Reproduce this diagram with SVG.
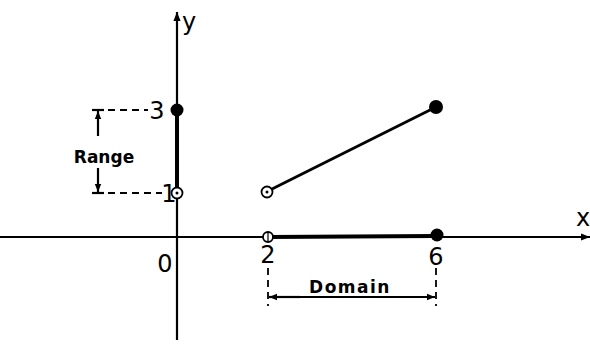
<svg xmlns="http://www.w3.org/2000/svg" width="590" height="345" viewBox="0 0 590 345">
<defs>
<marker id="ah" viewBox="0 0 10 10" refX="10" refY="5" markerWidth="12" markerHeight="8" markerUnits="userSpaceOnUse" orient="auto"><path d="M0,1 L10,5 L0,9 Z" fill="#000"/></marker>
<marker id="big" viewBox="0 0 10 10" refX="10" refY="5" markerWidth="16" markerHeight="9" markerUnits="userSpaceOnUse" orient="auto"><path d="M0,1 L10,5 L0,9 Z" fill="#000"/></marker>
</defs>
<style>
.ax{stroke:#000;stroke-width:2.2;fill:none}
.thick{stroke:#000;stroke-width:4;fill:none}
.ln{stroke:#000;stroke-width:2.8;fill:none}
.dash{stroke:#000;stroke-width:1.8;stroke-dasharray:7,5;fill:none}
.t{font-family:"DejaVu Sans","Liberation Sans",sans-serif;fill:#000}
.num{font-size:24px}
.lab{font-size:17px;font-weight:bold}
</style>
<rect width="590" height="345" fill="#fff"/>
<g id="connectors">
<line class="ax" x1="177" y1="340" x2="177" y2="12" marker-end="url(#big)"/>
<line class="ax" x1="0" y1="237" x2="590" y2="237" marker-end="url(#big)"/>
<line class="thick" x1="177" y1="110" x2="177" y2="193"/>
<line class="thick" x1="268" y1="237" x2="436" y2="236"/>
<line class="ln" x1="272" y1="189" x2="436" y2="107"/>
<line class="dash" x1="96" y1="110" x2="148" y2="110"/>
<line class="dash" x1="96" y1="193" x2="162" y2="193"/>
<line class="dash" x1="268" y1="268" x2="268" y2="306"/>
<line class="dash" x1="436" y1="268" x2="436" y2="306"/>
<line class="ax" x1="92" y1="110" x2="104" y2="110"/>
<line class="ax" x1="92" y1="193" x2="104" y2="193"/>
<line class="ax" x1="98" y1="136" x2="98" y2="111" marker-end="url(#ah)"/>
<line class="ax" x1="98" y1="168" x2="98" y2="192" marker-end="url(#ah)"/>
<line class="ax" x1="300" y1="297" x2="269" y2="297" marker-end="url(#ah)"/>
<line class="ax" x1="300" y1="297" x2="435" y2="297" marker-end="url(#ah)"/>
</g>
<g id="p-y3"><circle cx="177" cy="110" r="6.5" fill="#000"/></g>
<g id="p-y1"><circle cx="177" cy="193" r="5.5" fill="#fff" stroke="#000" stroke-width="1.8"/><circle cx="177" cy="193" r="1.5" fill="#000"/></g>
<g id="p-start"><circle cx="267" cy="192" r="5.5" fill="#fff" stroke="#000" stroke-width="1.8"/><circle cx="267" cy="192" r="1.5" fill="#000"/></g>
<g id="p-end"><circle cx="436" cy="107" r="7" fill="#000"/></g>
<g id="p-x2"><circle cx="268" cy="237" r="5" fill="#fff" stroke="#000" stroke-width="1.8"/><line x1="268" y1="232" x2="268" y2="242" stroke="#000" stroke-width="1.2"/></g>
<g id="p-x6"><circle cx="437" cy="235" r="6.5" fill="#000"/></g>
<g id="labels">
<text class="t num" x="182" y="30">y</text>
<text class="t num" x="576" y="226">x</text>
<text class="t num" x="165" y="272" text-anchor="middle">0</text>
<text class="t num" x="157" y="119" text-anchor="middle">3</text>
<text class="t num" x="169" y="202" text-anchor="middle">1</text>
<text class="t num" x="268" y="263" text-anchor="middle">2</text>
<text class="t num" x="436" y="265" text-anchor="middle">6</text>
<text class="t lab" x="104" y="163" text-anchor="middle">Range</text>
<text class="t lab" x="350" y="293" text-anchor="middle" letter-spacing="1.5">Domain</text>
</g>
</svg>
